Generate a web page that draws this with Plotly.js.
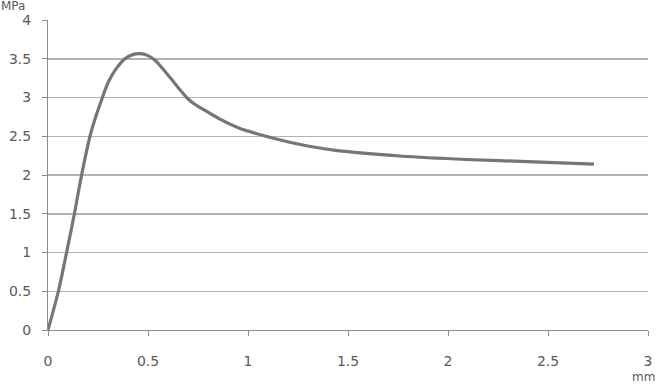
<!DOCTYPE html>
<html>
<head>
<meta charset="utf-8">
<script src="https://cdn.plot.ly/plotly-3.0.1.min.js"></script>
<style>html,body{margin:0;padding:0;background:#fff;}#chart{width:656px;height:385px;}</style>
</head>
<body>
<div id="chart"></div>
<script>
const displacement = [0, 0.052, 0.093, 0.132, 0.168, 0.21, 0.24, 0.272, 0.30, 0.335, 0.385, 0.42, 0.46, 0.50, 0.535, 0.60, 0.66, 0.693, 0.73, 0.768, 0.86, 0.96, 1.09, 1.25, 1.43, 1.76, 2.09, 2.43, 2.73];
const stress = [0, 0.5, 1.0, 1.5, 2.0, 2.5, 2.76, 3.0, 3.19, 3.35, 3.5, 3.55, 3.565, 3.54, 3.48, 3.29, 3.10, 3.0, 2.92, 2.86, 2.72, 2.60, 2.50, 2.40, 2.32, 2.245, 2.20, 2.17, 2.14];
const xTicks = [0, 0.5, 1, 1.5, 2, 2.5, 3];
const xTickText = ['0', '0.5', '1', '1.5', '2', '2.5', '3'];
const yTicks = [0, 0.5, 1, 1.5, 2, 2.5, 3, 3.5, 4];
const yTickText = ['0', '0.5', '1', '1.5', '2', '2.5', '3', '3.5', '4'];

const font = {family: 'DejaVu Sans, Verdana, sans-serif', size: 14, color: '#595959'};
const smallFont = {family: 'DejaVu Sans, Verdana, sans-serif', size: 12, color: '#595959'};

Plotly.newPlot('chart', [{
  x: displacement, y: stress, type: 'scatter', mode: 'lines',
  line: {color: '#767676', width: 3.2, shape: 'spline', smoothing: 0.8},
  hoverinfo: 'skip'
}], {
  width: 656, height: 385,
  margin: {l: 48, r: 8, t: 20, b: 55},
  paper_bgcolor: '#ffffff', plot_bgcolor: '#ffffff',
  showlegend: false,
  font: font,
  xaxis: {
    range: [0, 3], tickvals: xTicks, ticktext: xTickText,
    showgrid: false, zeroline: false,
    showline: true, linecolor: '#8c8c8c', linewidth: 1,
    ticks: 'outside', ticklen: 5, tickcolor: '#8c8c8c',
    ticklabelstandoff: 13, tickfont: font, fixedrange: true
  },
  yaxis: {
    range: [0, 4], tickvals: yTicks, ticktext: yTickText,
    showgrid: true, gridcolor: '#b3b3b3', gridwidth: 1.5,
    zeroline: false,
    showline: true, linecolor: '#8c8c8c', linewidth: 1,
    ticks: 'outside', ticklen: 5, tickcolor: '#8c8c8c',
    ticklabelstandoff: 8, tickfont: font, fixedrange: true
  },
  annotations: [
    {text: 'MPa', xref: 'paper', yref: 'paper', x: -0.08, y: 1.066, xanchor: 'left', yanchor: 'top', yshift: 2, borderpad: 0, showarrow: false, font: smallFont},
    {text: 'mm', xref: 'paper', yref: 'paper', x: 1.013, y: -0.1774, xanchor: 'right', yanchor: 'bottom', yshift: 0, borderpad: 0, showarrow: false, font: smallFont}
  ]
}, {staticPlot: true});
</script>
</body>
</html>
